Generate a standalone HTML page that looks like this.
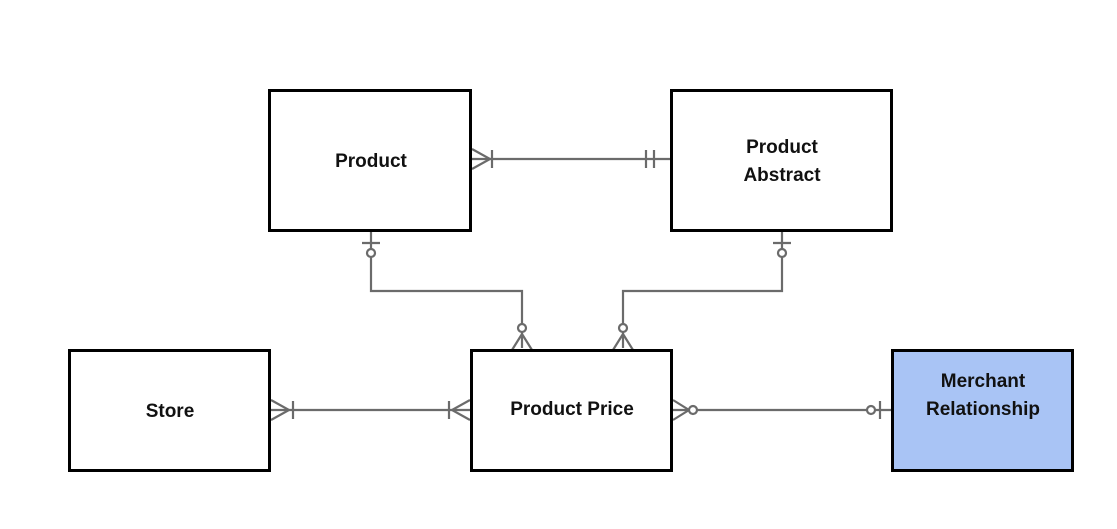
<!DOCTYPE html>
<html><head><style>
body{margin:0;background:#fff;width:1117px;height:524px;overflow:hidden}
</style></head><body>
<svg width="1117" height="524" xmlns="http://www.w3.org/2000/svg" font-family="Liberation Sans, sans-serif" font-weight="bold" font-size="19">
<g stroke="#6b6b6b" stroke-width="2.2" fill="none">
<!-- Product - Abstract -->
<line x1="472" y1="159" x2="670" y2="159"/>
<path d="M472 149 L490 159 L472 169"/>
<line x1="492" y1="150" x2="492" y2="168"/>
<line x1="646" y1="150" x2="646" y2="168"/>
<line x1="654" y1="150" x2="654" y2="168"/>
<!-- Product - PP -->
<path d="M371 231 V291 H522 V348"/>
<line x1="362" y1="243" x2="380" y2="243"/>
<circle cx="371" cy="253" r="4" fill="#fff"/>
<circle cx="522" cy="328" r="4" fill="#fff"/>
<path d="M512 350 L522 334 L532 350"/>
<!-- Abstract - PP -->
<path d="M782 231 V291 H623 V348"/>
<line x1="773" y1="243" x2="791" y2="243"/>
<circle cx="782" cy="253" r="4" fill="#fff"/>
<circle cx="623" cy="328" r="4" fill="#fff"/>
<path d="M613 350 L623 334 L633 350"/>
<!-- Store - PP -->
<line x1="271" y1="410" x2="470" y2="410"/>
<path d="M271 400 L289 410 L271 420"/>
<line x1="293" y1="401" x2="293" y2="419"/>
<path d="M470 400 L452 410 L470 420"/>
<line x1="449" y1="401" x2="449" y2="419"/>
<!-- PP - Merchant -->
<line x1="673" y1="410" x2="891" y2="410"/>
<path d="M673 400 L689 410 L673 420"/>
<circle cx="693" cy="410" r="4" fill="#fff"/>
<circle cx="871" cy="410" r="4" fill="#fff"/>
<line x1="880" y1="401" x2="880" y2="419"/>
</g>
<g stroke="#000" stroke-width="3" fill="#fff">
<rect x="269.5" y="90.5" width="201" height="140"/>
<rect x="671.5" y="90.5" width="220" height="140"/>
<rect x="69.5" y="350.5" width="200" height="120"/>
<rect x="471.5" y="350.5" width="200" height="120"/>
<rect x="892.5" y="350.5" width="180" height="120" fill="#a9c4f5"/>
</g>
<g fill="#111" text-anchor="middle">
<text x="371" y="167">Product</text>
<text x="782" y="153">Product</text>
<text x="782" y="181">Abstract</text>
<text x="170" y="417">Store</text>
<text x="572" y="415">Product Price</text>
<text x="983" y="387">Merchant</text>
<text x="983" y="415">Relationship</text>
</g>
</svg>
</body></html>
